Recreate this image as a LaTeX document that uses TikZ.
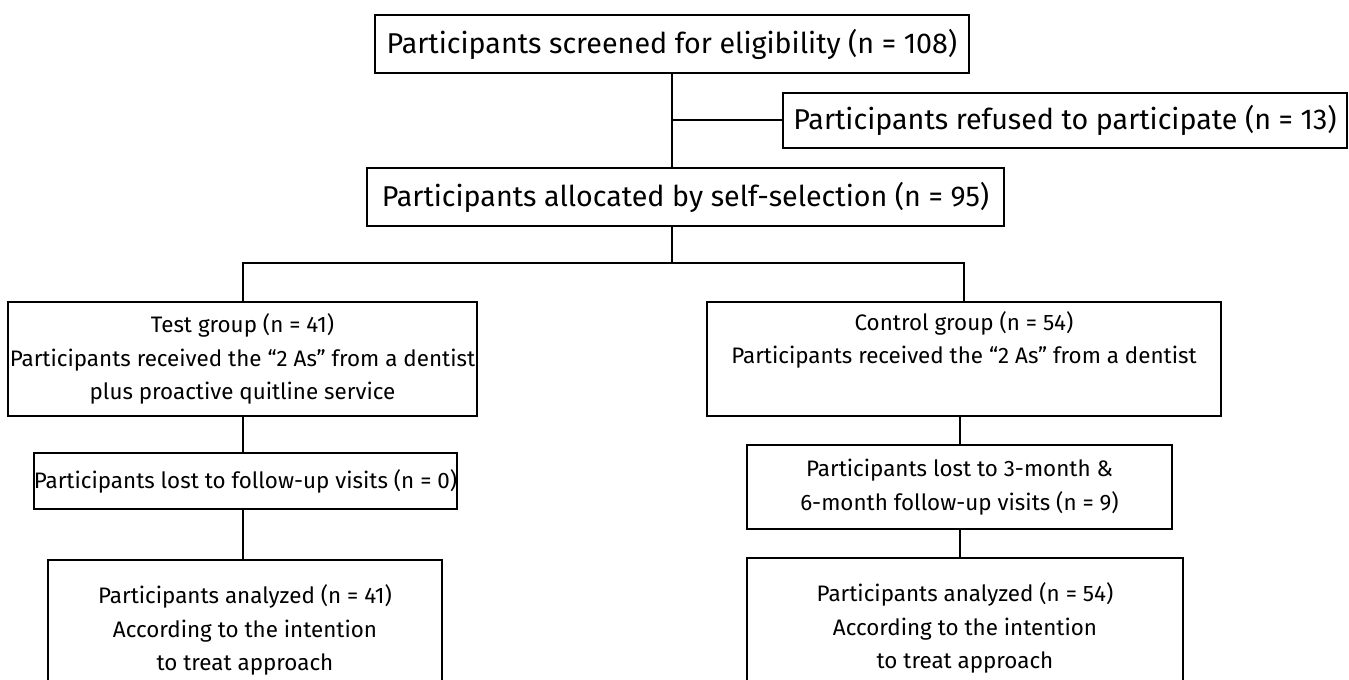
\documentclass[tikz,border=0pt]{standalone}
\usepackage{fontspec}
\setmainfont{Fira Sans}
\usetikzlibrary{positioning}

\begin{document}
\begin{tikzpicture}[x=0.75pt, y=0.75pt,
    every node/.style={font=\fontsize{21.5}{26}\selectfont, align=center},
    flowbox/.style 2 args={draw, line width=1.5pt, inner sep=0pt,
      minimum width=#1*0.75pt, minimum height=#2*0.75pt},
    armbox/.style={font=\fontsize{16.8}{25}\selectfont},
    link/.style={line width=1.5pt}]
  \useasboundingbox (0,0) rectangle (1349,679);
  \node[flowbox={594}{58}] (screen) at (672,635)
    {Participants screened for eligibility (n = 108)};
  \node[flowbox={564}{55}] (refused) at (1065,558.5)
    {Participants refused to participate (n = 13)};
  \node[flowbox={637}{58}] (alloc) at (685.5,482)
    {Participants allocated by self-selection (n = 95)};
  \node[flowbox={469}{114}, armbox] (test) at (242.5,320)
    {Test group (n = 41)\\Participants received the “2 As” from a dentist\\plus proactive quitline service};
  \node[flowbox={514}{114}, armbox] (control) at (964,320)
    {Control group (n = 54)\\Participants received the “2 As” from a dentist\\\strut};
  \node[flowbox={419}{56}, armbox] (lostT) at (245.5,198)
    {Participants lost to follow-up visits (n = 0)};
  \node[flowbox={425}{84}, armbox] (lostC) at (959.5,192)
    {Participants lost to 3-month \&\\6-month follow-up visits (n = 9)};
  \node[flowbox={394}{140}, armbox, anchor=north] (anaT) at (245,120)
    {Participants analyzed (n = 41)\\According to the intention\\to treat approach};
  \node[flowbox={436}{140}, armbox, anchor=north] (anaC) at (965,122)
    {Participants analyzed (n = 54)\\According to the intention\\to treat approach};
  \coordinate (split) at (screen.south |- 0,416);

  \draw[link] (screen.south) -- (screen.south |- alloc.north);
  \draw[link] (screen.south |- refused.west) -- (refused.west);
  \draw[link] (alloc.south -| split) -- (split);
  \draw[link] (test.north) |- (split) -| (control.north);
  \draw[link] (test.south) -- (test.south |- lostT.north);
  \draw[link] (lostT.south -| test.south) -- (anaT.north -| test.south);
  \draw[link] (control.south -| lostC.north) -- (lostC.north);
  \draw[link] (lostC.south) -- (lostC.south |- anaC.north);
\end{tikzpicture}
\end{document}
